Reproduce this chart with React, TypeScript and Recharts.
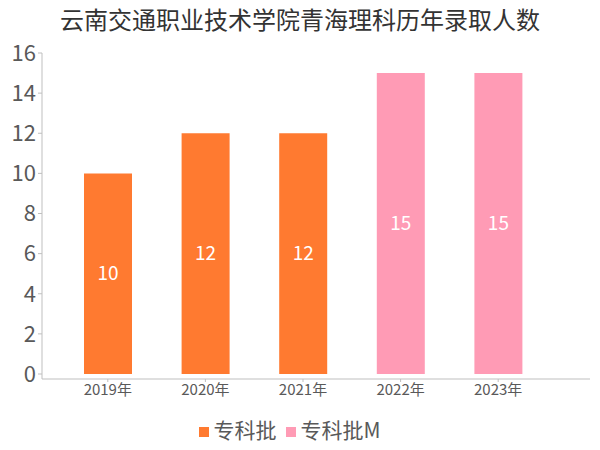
import { Bar, BarChart, LabelList, Legend, XAxis, YAxis } from "recharts";

const years = ["2019年", "2020年", "2021年", "2022年", "2023年"];
const zhuanke = [10, 12, 12, null, null];
const zhuankeM = [null, null, null, 15, 15];
const yTicks = [0, 2, 4, 6, 8, 10, 12, 14, 16];

const FONT = '"Noto Sans CJK SC", "Noto Sans", sans-serif';
const ORANGE = "#ff7a30";
const PINK = "#ff9bb5";

const data = years.map((y, i) => ({ year: y, a: zhuanke[i], b: zhuankeM[i] }));

export default function App() {
  return (
    <div style={{ position: "absolute", left: 0, top: 0, width: 600, height: 450, background: "#fff", fontFamily: FONT }}>
      <div
        style={{
          position: "absolute",
          top: 2,
          width: 600,
          textAlign: "center",
          fontSize: 24,
          color: "#333",
          lineHeight: "34px",
        }}
      >
        云南交通职业技术学院青海理科历年录取人数
      </div>
      <BarChart
        width={600}
        height={450}
        data={data}
        margin={{ top: 53, right: 10, bottom: 0, left: 0 }}
      >
        <XAxis
          dataKey="year"
          padding={{ left: 17, right: 43 }}
          stroke="#bfbfbf"
          tickSize={3}
          tick={{ fill: "#595959", fontSize: 15, fontFamily: FONT }}
          height={30}
        />
        <YAxis
          domain={[0, 16]}
          ticks={yTicks}
          width={42}
          padding={{ bottom: 5 }}
          stroke="#bfbfbf"
          tickSize={4}
          tick={{ fill: "#595959", fontSize: 22, fontFamily: FONT }}
        />
        <Legend
          verticalAlign="bottom"
          iconType="square"
          iconSize={10}
          height={41}
          wrapperStyle={{ fontSize: 21, fontFamily: FONT, bottom: -5 }}
          formatter={(v) => <span style={{ color: "#595959" }}>{v}</span>}
        />
        <Bar dataKey="a" name="专科批" stackId="s" fill={ORANGE} barSize={48} isAnimationActive={false}>
          <LabelList dataKey="a" position="center" fill="#fff" fontSize={19} fontFamily={FONT} />
        </Bar>
        <Bar dataKey="b" name="专科批M" stackId="s" fill={PINK} barSize={48} isAnimationActive={false}>
          <LabelList dataKey="b" position="center" fill="#fff" fontSize={19} fontFamily={FONT} />
        </Bar>
      </BarChart>
    </div>
  );
}
